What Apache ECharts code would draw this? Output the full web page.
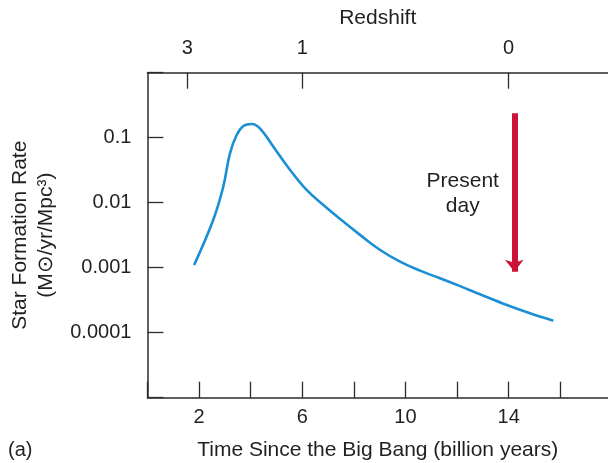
<!DOCTYPE html>
<html>
<head>
<meta charset="utf-8">
<script src="https://cdn.jsdelivr.net/npm/echarts@6/dist/echarts.min.js"></script>
<style>html,body{margin:0;padding:0;background:#fff}#c{width:608px;height:463px}</style>
</head>
<body>
<div id="c"></div>
<script>
// Data
const timeGyr = [1.81, 2.55, 2.94, 3.20, 3.46, 3.72, 4.04, 4.36, 4.88, 5.53, 6.17, 6.82, 7.47, 8.24, 9.02, 9.79, 10.57, 11.34, 12.12, 12.89, 13.93, 14.83, 15.73];
const sfr = [0.0011, 0.00542, 0.0176, 0.0575, 0.110, 0.151, 0.1625, 0.1395, 0.0727, 0.0319, 0.0157, 0.0092, 0.0056, 0.0032, 0.00187, 0.00124, 0.0009, 0.000687, 0.00052, 0.00039, 0.000267, 0.000199, 0.000153];
const bottomTicks = [0, 2, 4, 6, 8, 10, 12, 14, 16];
const bottomLabels = [2, 6, 10, 14];
const redshiftTimes = [1.55, 6, 14];
const redshiftLabels = ['3', '1', '0'];
const yLabelValues = [0.1, 0.01, 0.001, 0.0001];
const yLabelTexts = ['0.1', '0.01', '0.001', '0.0001'];
const arrowStart = [14.22, 0.237];
const arrowEnd = [14.22, 0.00087];
const noteAt = [12.22, 0.0139];
const noteText = 'Present\nday';

const FONT = 'Liberation Sans';
const TXT = '#231f20';
const AX = '#2b2b2b';
const FS = 20;
const FN = 21;

const chart = echarts.init(document.getElementById('c'), null, {renderer: 'canvas'});
const pts = timeGyr.map((t, i) => [t, sfr[i]]);

chart.setOption({
  animation: false,
  textStyle: {fontFamily: FONT},
  grid: {left: 147.4, right: 0, top: 72.7, bottom: 65.3, containLabel: false, outerBoundsMode: 'none'},
  xAxis: [{
    type: 'value', position: 'bottom', min: 0, max: 17.85,
    axisLine: {show: true, lineStyle: {color: AX, width: 1.5}},
    axisTick: {show: true, inside: true, length: 16, customValues: bottomTicks, lineStyle: {color: AX, width: 1.3}},
    axisLabel: {customValues: bottomLabels, margin: 10, fontSize: FS, color: TXT, fontFamily: FONT},
    splitLine: {show: false},
    name: 'Time Since the Big Bang (billion years)',
    nameLocation: 'middle', nameGap: 42,
    nameTextStyle: {fontSize: FN, color: TXT, fontFamily: FONT}
  }, {
    type: 'value', position: 'top', min: 0, max: 17.85,
    axisLine: {show: true, lineStyle: {color: AX, width: 1.5}},
    axisTick: {show: true, inside: true, length: 16, customValues: redshiftTimes, lineStyle: {color: AX, width: 1.3}},
    axisLabel: {customValues: redshiftTimes, margin: 14, fontSize: FS, color: TXT, fontFamily: FONT,
      formatter: v => { const i = redshiftTimes.findIndex(t => Math.abs(t - v) < 1e-6); return i >= 0 ? redshiftLabels[i] : ''; }},
    splitLine: {show: false},
    name: 'Redshift', nameLocation: 'middle', nameGap: 44,
    nameTextStyle: {fontSize: FN, color: TXT, fontFamily: FONT}
  }],
  yAxis: {
    type: 'log', logBase: 10, min: 1e-5, max: 1, interval: 1,
    axisLine: {show: true, lineStyle: {color: AX, width: 1.5}},
    axisTick: {show: true, inside: true, length: 16, lineStyle: {color: AX, width: 1.3}},
    minorTick: {show: false},
    splitLine: {show: false},
    axisLabel: {margin: 16, fontSize: FS, color: TXT, fontFamily: FONT, showMinLabel: true, showMaxLabel: true,
      formatter: v => { const e = Math.round(Math.log10(v)); const i = yLabelValues.findIndex(x => Math.round(Math.log10(x)) === e); return i >= 0 ? yLabelTexts[i] : ''; }},
    name: '{a|Star Formation Rate}\n{a|(M⊙/yr/Mpc³)}',
    nameLocation: 'middle', nameRotate: 90, nameGap: 88,
    nameTextStyle: {fontSize: FN, color: TXT, fontFamily: FONT, lineHeight: 26, align: 'center',
      rich: {a: {fontSize: FN, color: TXT, fontFamily: FONT, lineHeight: 26}}}
  },
  series: [{
    type: 'line', xAxisIndex: 0, data: pts, smooth: 0.4, symbol: 'none',
    lineStyle: {color: '#1a8fd5', width: 2.6},
    markLine: {
      silent: true, symbol: ['none', 'arrow'], symbolSize: [14, 12],
      label: {show: false},
      lineStyle: {color: '#cc1238', width: 6, type: 'solid'},
      data: [[{coord: arrowStart}, {coord: arrowEnd}]]
    },
    markPoint: {
      silent: true, symbol: 'circle', symbolSize: 0,
      label: {show: true, position: 'inside', formatter: noteText, fontSize: FN, lineHeight: 25, color: TXT, fontFamily: FONT},
      data: [{coord: noteAt}]
    }
  }],
  graphic: [{
    type: 'text', left: 8, top: 440,
    style: {text: '(a)', fontSize: FS, fill: TXT, fontFamily: FONT}
  }]
});
</script>
</body>
</html>
